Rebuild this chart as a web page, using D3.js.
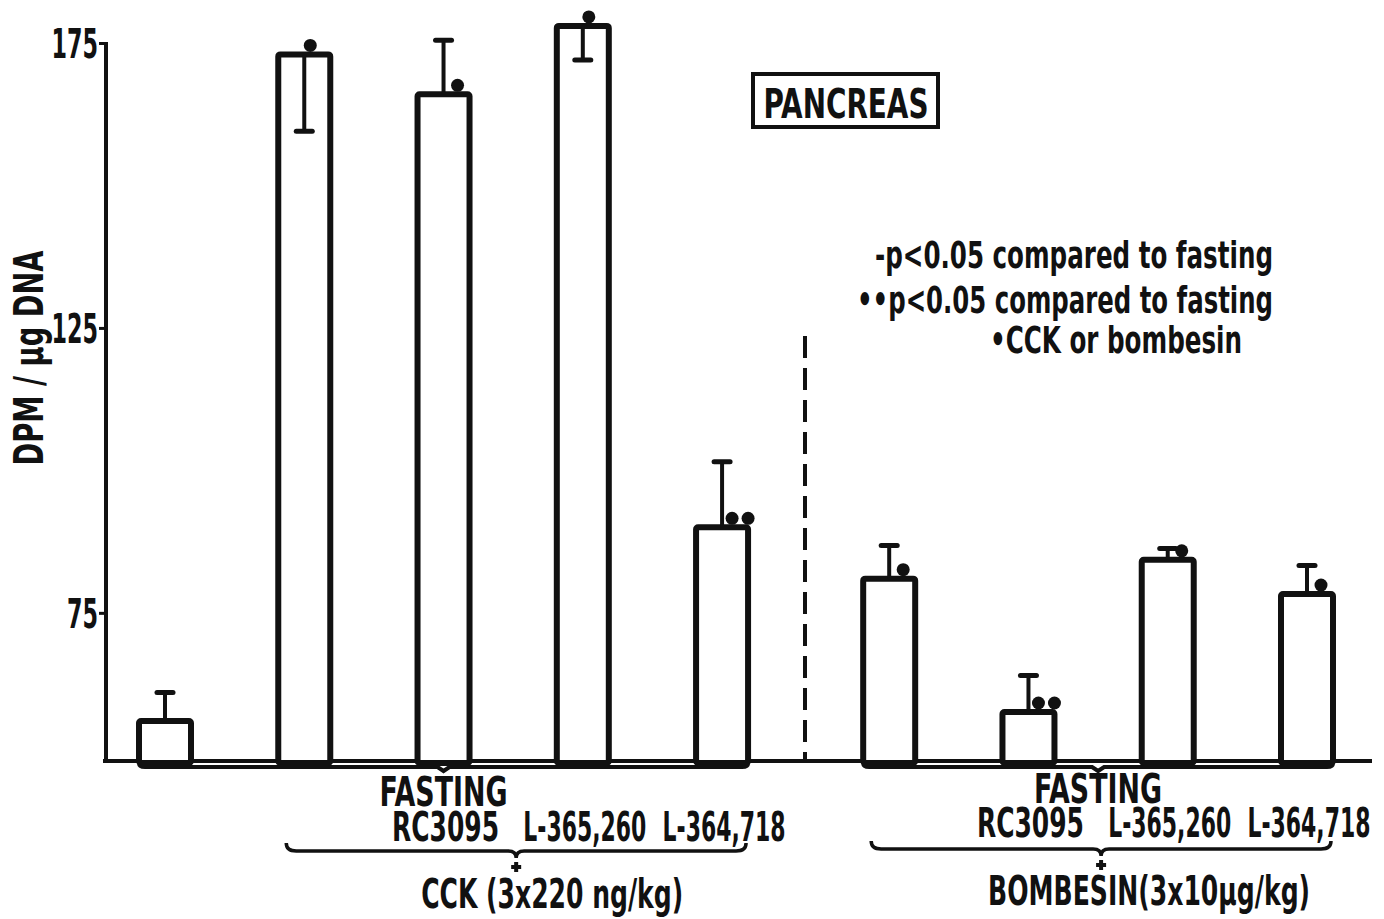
<!DOCTYPE html>
<html>
<head>
<meta charset="utf-8">
<script src="https://cdn.jsdelivr.net/npm/d3@7"></script>
<style>
  body { margin: 0; background: #fff; }
  text { font-family: "DejaVu Sans", sans-serif; font-stretch: condensed; font-weight: bold; fill: #111; }
</style>
</head>
<body>
<script>
// bar data
var barNames = ["Fasting", "CCK", "RC3095 + CCK", "L-365,260 + CCK", "L-364,718 + CCK",
                "Bombesin", "RC3095 + Bombesin", "L-365,260 + Bombesin", "L-364,718 + Bombesin"];
var barGroup = [0, 0, 0, 0, 0, 1, 1, 1, 1];
var drugLabels = ["", "", "RC3095", "L-365,260", "L-364,718", "", "RC3095", "L-365,260", "L-364,718"];
var meanValues = [56, 173, 166, 178, 90, 81, 57.6, 84.3, 78.3];
var seValues = [5, 13.5, 9.5, 6, 11.5, 5.8, 6.4, 2, 5];
var seSide = ["up", "down", "up", "down", "up", "up", "up", "up", "up"];
var sigDots = [0, 1, 1, 1, 2, 1, 2, 1, 1];
var stimulusLabels = ["CCK (3x220 ng/kg)", "BOMBESIN(3x10\u00b5g/kg)"];
var yTicks = [75, 125, 175];
var legendLines = ["-p<0.05 compared to fasting", "\u2022\u2022p<0.05 compared to fasting", "\u2022CCK or bombesin"];

// squeeze a text to a given width (the scanned font is very narrow)
function fit(sel, len){
    sel.attr("textLength", len).attr("lengthAdjust", "spacingAndGlyphs");
}

window.onload = function(){
    var w = 1384, h = 919;
    var svg = d3.select("body").append("svg")
        .attr("width", w)
        .attr("height", h);

    // scales
    var y = d3.scaleLinear().domain([49, 175]).range([761, 43]);
    var slot = function(i){ return i + (barGroup[i] === 1 ? 0.2 : 0); };
    var x = d3.scaleLinear().domain([0, 8.2]).range([165, 1307]);
    var bw = 52;
    var base = y(49);

    var data = meanValues.map(function(v, i){
        return {name: barNames[i], value: v, se: seValues[i], side: seSide[i], dots: sigDots[i], i: i};
    });

    // y axis
    var yAxis = d3.axisLeft(y).tickValues(yTicks).tickSize(7).tickPadding(1).tickFormat(d3.format("d"));
    var ax = svg.append("g")
        .attr("class", "axis")
        .attr("transform", "translate(106,0)")
        .call(yAxis);
    ax.select(".domain").remove();
    ax.selectAll(".tick line").attr("stroke", "#111").attr("stroke-width", 3);
    ax.selectAll(".tick text")
        .style("font-size", "40px")
        .attr("dy", "0.36em")
        .attr("fill", "#111")
        .each(function(d){ fit(d3.select(this), String(d).length * 15.5); });
    svg.append("line")
        .attr("x1", 106).attr("x2", 106)
        .attr("y1", y(175) - 1).attr("y2", base)
        .attr("stroke", "#111").attr("stroke-width", 4);

    // baseline
    svg.append("line")
        .attr("x1", 103).attr("x2", 1372)
        .attr("y1", base).attr("y2", base)
        .attr("stroke", "#111").attr("stroke-width", 4);

    // y title
    svg.append("text")
        .attr("transform", "translate(43," + 358 + ") rotate(-90)")
        .attr("text-anchor", "middle")
        .style("font-size", "40px")
        .call(fit, 215)
        .text("DPM / \u00b5g DNA");

    // group separator
    svg.append("line")
        .attr("x1", 805).attr("x2", 805)
        .attr("y1", 336).attr("y2", base)
        .attr("stroke", "#111").attr("stroke-width", 4)
        .attr("stroke-dasharray", "22,10");

    // fasting brackets under the baseline
    var stimLen = [262, 322];
    [0, 1].forEach(function(g){
        var idx = d3.range(data.length).filter(function(i){ return barGroup[i] === g; });
        var x0 = x(slot(idx[0])) - bw / 2, x1 = x(slot(idx[idx.length - 1])) + bw / 2;
        var mid = (x0 + x1) / 2, by = base + 6;
        svg.append("path")
            .attr("d", "M" + x0 + "," + (base - 2) + " V" + (by - 4) + " Q" + x0 + "," + by + " " + (x0 + 6) + "," + by +
                " H" + (mid - 6) + " L" + mid + "," + (by + 4) + " L" + (mid + 6) + "," + by +
                " H" + (x1 - 6) + " Q" + x1 + "," + by + " " + x1 + "," + (by - 4) + " V" + (base - 2))
            .attr("fill", "none").attr("stroke", "#111").attr("stroke-width", 4);
        svg.append("text")
            .attr("x", mid).attr("y", 806 - g * 3)
            .attr("text-anchor", "middle")
            .style("font-size", "41px")
            .call(fit, 128)
            .text("FASTING");

        // curly brace under the stimulated bars
        var sIdx = idx.filter(function(i){ return g === 1 || i > 0; });
        var b0 = x(slot(sIdx[0])) - bw / 2 + 8, b1 = x(slot(sIdx[sIdx.length - 1])) + bw / 2 - 2;
        var bm = (b0 + b1) / 2, cy = 851 - g * 2;
        svg.append("path")
            .attr("d", "M" + b0 + "," + (cy - 8) + " Q" + b0 + "," + cy + " " + (b0 + 10) + "," + cy +
                " H" + (bm - 8) + " Q" + bm + "," + cy + " " + bm + "," + (cy + 7) +
                " Q" + bm + "," + cy + " " + (bm + 8) + "," + cy +
                " H" + (b1 - 10) + " Q" + b1 + "," + cy + " " + b1 + "," + (cy - 8))
            .attr("fill", "none").attr("stroke", "#111").attr("stroke-width", 3.5);
        svg.append("path")
            .attr("d", "M" + (bm - 5) + "," + (cy + 16) + " H" + (bm + 5) + " M" + bm + "," + (cy + 11) + " V" + (cy + 21))
            .attr("stroke", "#111").attr("stroke-width", 4);
        svg.append("text")
            .attr("x", bm + 36 + g * 12).attr("y", 908 - g * 3)
            .attr("text-anchor", "middle")
            .style("font-size", "40px")
            .call(fit, stimLen[g])
            .text(stimulusLabels[g]);
    });

    // drug labels under bars
    svg.selectAll(".drug")
        .data(data.filter(function(d){ return drugLabels[d.i] !== ""; }))
        .enter().append("text")
        .attr("class", "drug")
        .attr("x", function(d){ return x(slot(d.i)) + 2; })
        .attr("y", function(d){ return 841 - barGroup[d.i] * 4; })
        .attr("text-anchor", "middle")
        .style("font-size", "41px")
        .attr("textLength", function(d){ return drugLabels[d.i].length > 6 ? 123 : 107; })
        .attr("lengthAdjust", "spacingAndGlyphs")
        .text(function(d){ return drugLabels[d.i]; });

    // bars
    svg.selectAll(".bar")
        .data(data)
        .enter().append("rect")
        .attr("class", "bar")
        .attr("x", function(d){ return x(slot(d.i)) - bw / 2; })
        .attr("y", function(d){ return y(d.value); })
        .attr("width", bw)
        .attr("height", function(d){ return base + 2 - y(d.value); })
        .attr("rx", 2)
        .attr("fill", "#fff")
        .attr("stroke", "#111")
        .attr("stroke-width", 6);

    // error bars
    var err = svg.selectAll(".err")
        .data(data)
        .enter().append("g")
        .attr("class", "err");
    var errEnd = function(d){ return y(d.side === "up" ? d.value + d.se : d.value - d.se); };
    err.append("line")
        .attr("x1", function(d){ return x(slot(d.i)); })
        .attr("x2", function(d){ return x(slot(d.i)); })
        .attr("y1", function(d){ return y(d.value); })
        .attr("y2", errEnd)
        .attr("stroke", "#111").attr("stroke-width", 4);
    err.append("line")
        .attr("x1", function(d){ return x(slot(d.i)) - 8; })
        .attr("x2", function(d){ return x(slot(d.i)) + 8; })
        .attr("y1", errEnd)
        .attr("y2", errEnd)
        .attr("stroke", "#111").attr("stroke-width", 5)
        .attr("stroke-linecap", "round");

    // significance dots
    data.forEach(function(d){
        var cx = x(slot(d.i));
        var start = d.side === "down" ? 6 : 14;
        for (var k = 0; k < d.dots; k++) {
            svg.append("circle")
                .attr("cx", cx + start + k * 16 - (d.dots === 2 ? 4 : 0))
                .attr("cy", y(d.value) - 9)
                .attr("r", 6.5)
                .attr("fill", "#111");
        }
    });

    // title box
    svg.append("rect")
        .attr("x", 753).attr("y", 74)
        .attr("width", 185).attr("height", 53)
        .attr("fill", "none").attr("stroke", "#111").attr("stroke-width", 4);
    svg.append("text")
        .attr("x", 846).attr("y", 118)
        .attr("text-anchor", "middle")
        .style("font-size", "40px")
        .call(fit, 165)
        .text("PANCREAS");

    // legend
    var legX = [875, 857, 990], legY = [268, 313, 353], legLen = [398, 416, 252];
    svg.selectAll(".legend")
        .data(legendLines)
        .enter().append("text")
        .attr("class", "legend")
        .attr("x", function(d, i){ return legX[i]; })
        .attr("y", function(d, i){ return legY[i]; })
        .attr("textLength", function(d, i){ return legLen[i]; })
        .attr("lengthAdjust", "spacingAndGlyphs")
        .style("font-size", "38px")
        .text(function(d){ return d; });
};
</script>
</body>
</html>
